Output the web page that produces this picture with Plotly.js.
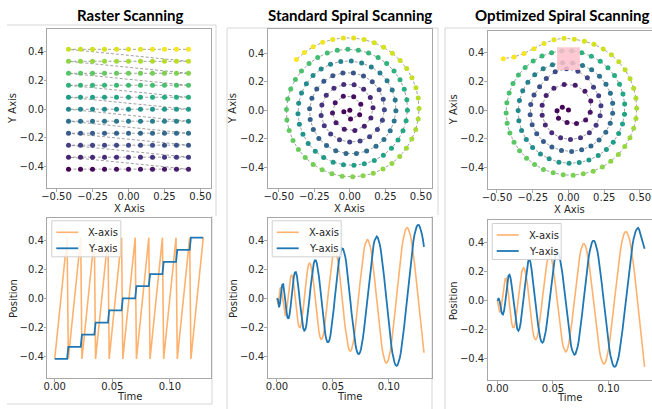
<!DOCTYPE html>
<html>
<head>
<meta charset="utf-8">
<script src="https://cdn.plot.ly/plotly-3.0.1.min.js"></script>
<style>html,body{margin:0;padding:0;background:#fff;}#chart{width:652px;height:409px;}</style>
</head>
<body>
<div id="chart"></div>
<script>
// ---------- data ----------
const gridLevels = [-0.4167,-0.3333,-0.25,-0.1667,-0.0833,0,0.0833,0.1667,0.25,0.3333,0.4167];

const stdX = [0,-0.042,0.005,0.069,0.077,0.027,-0.046,-0.103,-0.122,-0.097,
-0.039,0.035,0.102,0.148,0.163,0.144,0.097,0.030,-0.043,-0.112,
-0.166,-0.197,-0.202,-0.180,-0.135,-0.073,-0.001,0.072,0.139,0.194,
0.229,0.243,0.235,0.206,0.158,0.096,0.025,-0.049,-0.120,-0.183,
-0.233,-0.267,-0.283,-0.279,-0.257,-0.218,-0.164,-0.099,-0.027,0.046,
0.118,0.184,0.240,0.284,0.312,0.324,0.319,0.298,0.262,0.212,
0.151,0.083,0.010,-0.064,-0.136,-0.202,-0.259,-0.306,-0.340,-0.360,
-0.365,-0.355,-0.330,-0.293,-0.243,-0.184,-0.117,-0.045,0.029,0.102,
0.172,0.236,0.293,0.339,0.374,0.396,0.405,0.401,0.383,0.353,
0.311,0.259,0.199,0.132,0.060,-0.014,-0.088,-0.159,-0.226,-0.287,
-0.340,-0.383,-0.416,-0.437,-0.446,-0.443,-0.427,-0.400,-0.362,-0.314,
-0.258,-0.195,-0.126,-0.054,0.020,0.093,0.165,0.233,0.296,0.351,
0.398,0.436,0.464,0.481,0.487,0.481,0.465,0.437,0.400,0.354,
0.299,0.238,0.172,0.100,0.027,-0.046,-0.120,-0.191,-0.258,-0.320,-0.376];

const stdY = [0,-0.011,-0.062,-0.031,0.041,0.094,0.097,0.052,-0.019,-0.088,
-0.133,-0.141,-0.112,-0.054,0.018,0.089,0.146,0.178,0.180,0.154,
0.104,0.036,-0.037,-0.108,-0.166,-0.206,-0.223,-0.215,-0.185,-0.134,
-0.070,0.003,0.076,0.144,0.200,0.240,0.261,0.261,0.241,0.203,
0.148,0.083,0.010,-0.064,-0.134,-0.197,-0.247,-0.283,-0.302,-0.302,
-0.286,-0.252,-0.204,-0.144,-0.076,-0.003,0.071,0.142,0.206,0.260,
0.303,0.331,0.344,0.341,0.322,0.289,0.243,0.185,0.120,0.049,
-0.025,-0.098,-0.168,-0.232,-0.287,-0.331,-0.363,-0.381,-0.385,-0.375,
-0.351,-0.315,-0.266,-0.209,-0.143,-0.073,0.000,0.074,0.146,0.213,
0.274,0.327,0.369,0.400,0.420,0.426,0.419,0.400,0.369,0.327,
0.275,0.215,0.149,0.078,0.005,-0.069,-0.142,-0.211,-0.274,-0.331,
-0.379,-0.417,-0.445,-0.461,-0.466,-0.459,-0.441,-0.411,-0.372,-0.323,
-0.266,-0.202,-0.134,-0.062,0.012,0.086,0.158,0.227,0.291,0.348,
0.399,0.440,0.472,0.494,0.505,0.506,0.495,0.475,0.444,0.404,0.355];

const optX = [0,-0.043,-0.080,-0.070,-0.010,0.056,0.120,0.152,0.156,0.115,
0.047,-0.030,-0.102,-0.156,-0.184,-0.184,-0.162,-0.117,-0.055,0.014,
0.084,0.146,0.193,0.221,0.227,0.211,0.175,0.132,0.066,-0.014,
-0.093,-0.155,-0.202,-0.241,-0.264,-0.268,-0.254,-0.222,-0.175,-0.116,
-0.049,0.022,0.092,0.157,0.214,0.261,0.292,0.309,0.309,0.293,
0.262,0.217,0.162,0.098,0.029,-0.042,-0.112,-0.177,-0.236,-0.284,
-0.320,-0.343,-0.352,-0.347,-0.328,-0.295,-0.251,-0.196,-0.135,-0.067,
0.004,0.075,0.143,0.208,0.265,0.313,0.351,0.378,0.392,0.393,
0.381,0.357,0.322,0.276,0.222,0.160,0.093,0.023,-0.048,-0.118,
-0.185,-0.247,-0.303,-0.350,-0.388,-0.415,-0.431,-0.436,-0.429,-0.410,
-0.381,-0.342,-0.293,-0.237,-0.175,-0.107,-0.037,0.033,0.104,0.173,
0.237,0.296,0.349,0.394,0.430,0.456,0.472,0.477,0.472,0.456,
0.431,0.396,0.352,0.300,0.243,0.178,0.111,0.041,-0.031,-0.101,
-0.171,-0.241,-0.311,-0.381,-0.456];

const optY = [0,0.019,-0.005,-0.058,-0.088,-0.095,-0.070,-0.016,0.063,0.132,
0.173,0.179,0.153,0.101,0.034,-0.037,-0.105,-0.160,-0.195,-0.207,
-0.194,-0.159,-0.106,-0.041,0.030,0.099,0.160,0.225,0.272,0.288,
0.268,0.220,0.163,0.105,0.038,-0.034,-0.103,-0.166,-0.220,-0.259,
-0.283,-0.290,-0.279,-0.252,-0.210,-0.155,-0.092,-0.023,0.048,0.118,
0.181,0.237,0.281,0.312,0.329,0.330,0.317,0.288,0.247,0.195,
0.134,0.067,-0.004,-0.075,-0.143,-0.206,-0.262,-0.308,-0.342,-0.365,
-0.373,-0.368,-0.350,-0.319,-0.277,-0.225,-0.165,-0.098,-0.029,0.042,
0.112,0.180,0.241,0.295,0.341,0.377,0.401,0.413,0.413,0.401,
0.378,0.343,0.298,0.245,0.185,0.119,0.050,-0.021,-0.092,-0.161,
-0.225,-0.285,-0.337,-0.381,-0.416,-0.440,-0.454,-0.456,-0.447,-0.428,
-0.399,-0.359,-0.311,-0.256,-0.194,-0.128,-0.059,0.013,0.083,0.153,
0.219,0.281,0.337,0.386,0.427,0.460,0.482,0.495,0.503,0.492,
0.466,0.429,0.396,0.371,0.359];

// region of interest (pink box) in the optimized scan
const roiX = [-0.08, 0.08];
const roiY = [0.28, 0.44];

// scan durations (end of the time axis)
const rasterDuration = 0.129;
const stdDuration = 0.1315;
const optDuration = 0.1325;

const seriesNames = ['X-axis', 'Y-axis'];

// ---------- build raster scan order from the grid levels ----------
const rasterX = [], rasterY = [];
gridLevels.forEach(row => gridLevels.forEach(col => { rasterX.push(col); rasterY.push(row); }));

const seq = n => Array.from({length: n}, (_, i) => i);

const W = 652, H = 409;
const px = v => v / W;
const py = v => 1 - v / H;
const ORANGE = '#ffb26e', BLUE = '#1f77b4';

function spatial(xs, ys, xa, ya) {
  return {
    type: 'scatter', mode: 'lines+markers', x: xs, y: ys, xaxis: xa, yaxis: ya,
    showlegend: false, hoverinfo: 'skip',
    line: {color: 'rgba(120,120,120,0.7)', width: 1, dash: '3px,2px'},
    marker: {size: 5, color: seq(xs.length), colorscale: 'Viridis', cmin: 0, cmax: xs.length - 1, line: {width: 0}}
  };
}
function timeTraces(xs, ys, dur, xa, ya) {
  const dx = dur / (xs.length - 1);
  return [
    {type: 'scatter', mode: 'lines', y: xs, x0: 0, dx: dx, name: seriesNames[0], xaxis: xa, yaxis: ya, showlegend: false,
     line: {color: ORANGE, width: 1.6}},
    {type: 'scatter', mode: 'lines', y: ys, x0: 0, dx: dx, name: seriesNames[1], xaxis: xa, yaxis: ya, showlegend: false,
     line: {color: BLUE, width: 1.8}}
  ];
}

const data = [
  spatial(rasterX, rasterY, 'x', 'y'),
  spatial(stdX, stdY, 'x2', 'y2'),
  spatial(optX, optY, 'x3', 'y3'),
  ...timeTraces(rasterX, rasterY, rasterDuration, 'x4', 'y4'),
  ...timeTraces(stdX, stdY, stdDuration, 'x5', 'y5'),
  ...timeTraces(optX, optY, optDuration, 'x6', 'y6')
];

const tickFont = {family: 'DejaVu Sans', size: 10, color: '#262626'};
function axis(d0, d1, range, tickvals, fmt, isX) {
  return {
    domain: [d0, d1], range: range, tickvals: tickvals, tickformat: fmt,
    showgrid: false, zeroline: false, showline: true, mirror: true,
    linecolor: '#a8a8a8', linewidth: 1, ticks: 'outside', ticklen: 2.5, tickwidth: 1, tickcolor: '#a8a8a8',
    ticklabelstandoff: isX ? -4 : -2,
    tickfont: tickFont, fixedrange: true
  };
}
const xs1 = [-0.5, -0.25, 0, 0.25, 0.5];
const ys1 = [-0.4, -0.2, 0, 0.2, 0.4];
const ts = [0, 0.05, 0.1];

const colL = [47.3, 210.7], colM = [267.7, 431.7], colR = [487.7, 651.7];
const rowTop = [[29.3, 188.3], [29.3, 188.3], [30.7, 189.3]];
const rowBot = [[218.3, 378.3], [218.3, 378.3], [220, 380]];
const layout = {
  width: W, height: H, margin: {l: 0, r: 0, t: 0, b: 0},
  paper_bgcolor: '#fff', plot_bgcolor: '#fff', showlegend: false,
  xaxis:  Object.assign(axis(px(colL[0]), px(colL[1]), [-0.564, 0.571], xs1, '.2f', true), {anchor: 'y'}),
  yaxis:  Object.assign(axis(py(rowTop[0][1]), py(rowTop[0][0]), [-0.550, 0.556], ys1, '.1f'), {anchor: 'x'}),
  xaxis2: Object.assign(axis(px(colM[0]), px(colM[1]), [-0.578, 0.576], xs1, '.2f', true), {anchor: 'y2'}),
  yaxis2: Object.assign(axis(py(rowTop[1][1]), py(rowTop[1][0]), [-0.546, 0.566], ys1, '.1f'), {anchor: 'x2'}),
  xaxis3: Object.assign(axis(px(colR[0]), px(colR[1]), [-0.565, 0.582], xs1, '.2f', true), {anchor: 'y3'}),
  yaxis3: Object.assign(axis(py(rowTop[2][1]), py(rowTop[2][0]), [-0.555, 0.555], ys1, '.1f'), {anchor: 'x3'}),
  xaxis4: Object.assign(axis(px(colL[0]), px(colL[1]), [-0.00645, 0.13545], ts, '.2f', true), {anchor: 'y4'}),
  yaxis4: Object.assign(axis(py(rowBot[0][1]), py(rowBot[0][0]), [-0.55, 0.55], ys1, '.1f'), {anchor: 'x4'}),
  xaxis5: Object.assign(axis(px(colM[0]), px(colM[1]), [-0.0083, 0.1384], ts, '.2f', true), {anchor: 'y5'}),
  yaxis5: Object.assign(axis(py(rowBot[1][1]), py(rowBot[1][0]), [-0.552, 0.552], ys1, '.1f'), {anchor: 'x5'}),
  xaxis6: Object.assign(axis(px(colR[0]), px(colR[1]), [-0.0088, 0.1389], ts, '.2f', true), {anchor: 'y6'}),
  yaxis6: Object.assign(axis(py(rowBot[2][1]), py(rowBot[2][0]), [-0.547, 0.557], ys1, '.1f'), {anchor: 'x6'}),
  shapes: [
    {type: 'rect', xref: 'x3', yref: 'y3', x0: roiX[0], x1: roiX[1], y0: roiY[0], y1: roiY[1], fillcolor: '#ffc0cb', opacity: 0.85, line: {width: 0}, layer: 'above'}
  ],
  annotations: []
};

// panel border lines of the composite figure
const borders = [
  [7, 25, 216, 25], [216, 25, 216, 216], [212, 216, 212, 404], [7, 404, 212, 404],
  [227, 28, 438, 28], [227, 28, 227, 409], [438, 28, 438, 215], [432, 216, 432, 409],
  [445, 28, 652, 28], [445, 28, 445, 409]
];
borders.forEach(b => layout.shapes.push({type: 'line', xref: 'paper', yref: 'paper', x0: px(b[0]), y0: py(b[1]), x1: px(b[2]), y1: py(b[3]), line: {color: '#d6d6d6', width: 1}, layer: 'below'}));

function ann(text, x, y, opts) {
  return Object.assign({text: text, xref: 'paper', yref: 'paper', x: px(x), y: py(y), xanchor: 'center', yanchor: 'middle', showarrow: false,
    font: {family: 'DejaVu Sans', size: 10, color: '#262626'}}, opts || {});
}

// legends drawn inside each time plot (top-left corner)
[[colL[0], rowBot[0][0]], [colM[0], rowBot[1][0]], [colR[0], rowBot[2][0] + 1]].forEach(([lx, ty]) => {
  layout.shapes.push({type: 'rect', xref: 'paper', yref: 'paper', x0: px(lx + 4.5), x1: px(lx + 73.5), y0: py(ty + 2.5), y1: py(ty + 38.5),
    fillcolor: 'rgba(255,255,255,0.85)', line: {color: '#d0d0d0', width: 1}, layer: 'above'});
  [[ORANGE, 1.6, 14], [BLUE, 1.8, 30]].forEach(([c, w, dy], k) => {
    layout.shapes.push({type: 'line', xref: 'paper', yref: 'paper', x0: px(lx + 9), x1: px(lx + 31), y0: py(ty + dy), y1: py(ty + dy),
      line: {color: c, width: w}, layer: 'above'});
    layout.annotations.push(ann(seriesNames[k], lx + 39, ty + dy, {xanchor: 'left'}));
  });
});

const titleFont = {family: 'Lato', size: 15, color: '#000', weight: 700};
layout.annotations.push(
  ann('Raster Scanning', 129.5, 15, {font: titleFont}),
  ann('Standard Spiral Scanning', 350, 15, {font: titleFont}),
  ann('Optimized Spiral Scanning', 561.5, 15, {font: titleFont}),
  ann('X Axis', 129, 208.5), ann('X Axis', 349.7, 208.5), ann('X Axis', 569.7, 209.5),
  ann('Time', 129, 396.5), ann('Time', 349.7, 396.5), ann('Time', 569.7, 397.5),
  ann('Y Axis', 13, 109, {textangle: -90}), ann('Y Axis', 233, 109, {textangle: -90}), ann('Y Axis', 453.3, 110, {textangle: -90}),
  ann('Position', 13, 299, {textangle: -90}), ann('Position', 233, 299, {textangle: -90}), ann('Position', 453.3, 301, {textangle: -90})
);

Plotly.newPlot('chart', data, layout, {displayModeBar: false, staticPlot: true});
</script>
</body>
</html>
